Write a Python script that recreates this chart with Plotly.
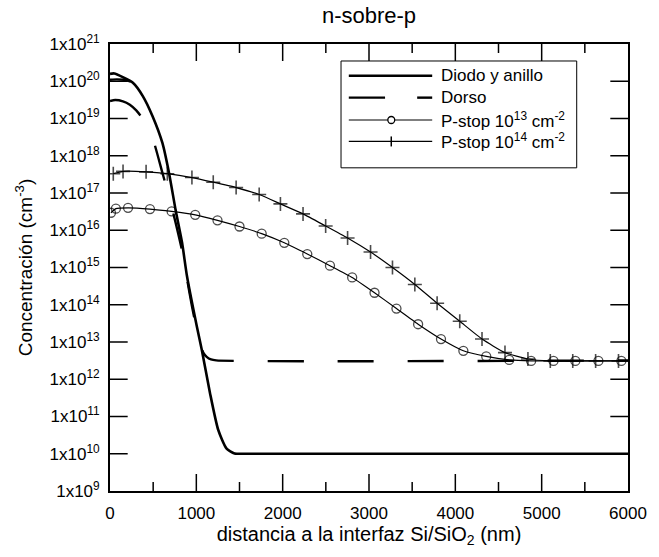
import plotly.graph_objects as go

# ---------------- data ----------------
diodo_x = [0, 50, 148, 265, 380, 493, 607, 683, 760, 835, 892, 1006, 1063, 1158, 1253, 1348, 1443, 1600, 6000]
diodo_y = [1.58e20, 1.62e20, 1.29e20, 9.1e19, 4.0e19, 1.15e19, 2.2e18, 3.5e17, 3.5e16, 4.6e15,
           5.8e14, 2.6e13, 6.2e12, 4.3e11, 4.4e10, 1.4e10, 1.02e10, 1.0e10, 1.0e10]

anillo_x = [0, 80, 160, 240]
anillo_y = [1.1e20, 1.12e20, 1.1e20, 9.8e19]

dorso_x = [0, 60, 150, 230, 304, 400, 493, 607, 703, 760, 835, 892, 950, 1000, 1044, 1080, 1120, 1170, 1230, 6000]
dorso_y = [2.95e19, 3.15e19, 2.9e19, 2.35e19, 1.65e19, 8.5e18, 3.0e18, 3.5e17, 5.4e16, 1.6e16,
           2.8e15, 5.0e14, 8.9e13, 2.5e13, 1.0e13, 5.2e12, 4.0e12, 3.4e12, 3.2e12, 3.2e12]

p13_x = [11, 68, 209, 463, 714, 987, 1245, 1500, 1757, 2019, 2285, 2548, 2805, 3064, 3318, 3569,
         3834, 4093, 4358, 4624, 4878, 5137, 5390, 5657, 5923, 6000]
p13_y = [2.95e16, 3.8e16, 4.0e16, 3.7e16, 3.2e16, 2.6e16, 1.85e16, 1.26e16, 8.1e15, 4.6e15, 2.3e15,
         1.12e15, 5.4e14, 2.1e14, 7.9e13, 3.0e13, 1.2e13, 5.8e12, 4.1e12, 3.3e12, 3.1e12, 3.1e12,
         3.1e12, 3.1e12, 3.1e12, 3.1e12]

p14_x = [38, 151, 418, 664, 949, 1196, 1461, 1728, 1974, 2236, 2498, 2752, 3018, 3272, 3531, 3789,
         4051, 4309, 4575, 4841, 5100, 5360, 5625, 5890, 6000]
p14_y = [3.3e17, 3.8e17, 3.7e17, 3.3e17, 2.6e17, 1.95e17, 1.4e17, 9.1e16, 5.1e16, 2.75e16, 1.3e16,
         6.2e15, 2.6e15, 1.0e15, 3.5e14, 1.1e14, 3.6e13, 1.2e13, 5.2e12, 3.5e12, 3.1e12, 3.1e12,
         3.1e12, 3.1e12, 3.1e12]

x_tick_vals = [0, 1000, 2000, 3000, 4000, 5000, 6000]
x_minor_vals = [500, 1500, 2500, 3500, 4500, 5500]
y_tick_vals = [1e9, 1e10, 1e11, 1e12, 1e13, 1e14, 1e15, 1e16, 1e17, 1e18, 1e19, 1e20, 1e21]
y_tick_text = ["1x10<sup>9</sup>", "1x10<sup>10</sup>", "1x10<sup>11</sup>", "1x10<sup>12</sup>",
               "1x10<sup>13</sup>", "1x10<sup>14</sup>", "1x10<sup>15</sup>", "1x10<sup>16</sup>",
               "1x10<sup>17</sup>", "1x10<sup>18</sup>", "1x10<sup>19</sup>", "1x10<sup>20</sup>",
               "1x10<sup>21</sup>"]

legend_labels = ["Diodo y anillo", "Dorso", "P-stop 10<sup>13</sup> cm<sup>-2</sup>",
                 "P-stop 10<sup>14</sup> cm<sup>-2</sup>"]

FONT = "Liberation Sans, Arial, Helvetica, sans-serif"
PW, PH = 527.0, 447.0   # plot-area size in px (tick / legend glyph lengths)

fig = go.Figure()

fig.add_trace(go.Scatter(x=diodo_x, y=diodo_y, mode="lines", name=legend_labels[0],
                         line=dict(color="black", width=2.6, shape="spline", smoothing=0.6)))
fig.add_trace(go.Scatter(x=anillo_x, y=anillo_y, mode="lines", showlegend=False,
                         line=dict(color="black", width=2.4, shape="spline", smoothing=0.6)))
fig.add_trace(go.Scatter(x=dorso_x, y=dorso_y, mode="lines", name=legend_labels[1],
                         line=dict(color="black", width=2.4, dash="36px,34px", shape="spline", smoothing=0.6)))

p13_sizes = [9] * (len(p13_x) - 1) + [0]
fig.add_trace(go.Scatter(x=p13_x, y=p13_y, mode="lines+markers", name=legend_labels[2],
                         line=dict(color="black", width=1.2, shape="spline", smoothing=0.5),
                         marker=dict(symbol="circle-open", size=p13_sizes, color="black",
                                     line=dict(width=1.3, color="black"))))
p14_sizes = [10] * (len(p14_x) - 1) + [0]
fig.add_trace(go.Scatter(x=p14_x, y=p14_y, mode="lines+markers", name=legend_labels[3],
                         line=dict(color="black", width=1.2, shape="spline", smoothing=0.5),
                         marker=dict(symbol="cross-thin", size=p14_sizes, color="black",
                                     line=dict(width=1.6, color="black"))))

# ---------------- inside tick marks on all four sides (drawn as line traces) ----------------
xt_x, xt_y = [], []
for v in x_tick_vals[1:-1]:
    xt_x += [v, v, None, v, v, None]
    xt_y += [0, 17, None, PH - 17, PH, None]
for v in x_minor_vals:
    xt_x += [v, v, None, v, v, None]
    xt_y += [0, 9, None, PH - 9, PH, None]
fig.add_trace(go.Scatter(x=xt_x, y=xt_y, xaxis="x", yaxis="y2", mode="lines", showlegend=False,
                         hoverinfo="skip", line=dict(color="black", width=1.5)))

yt_x, yt_y = [], []
for v in y_tick_vals[1:-1]:
    yt_x += [0, 18, None, PW - 18, PW, None]
    yt_y += [v, v, None, v, v, None]
fig.add_trace(go.Scatter(x=yt_x, y=yt_y, xaxis="x2", yaxis="y", mode="lines", showlegend=False,
                         hoverinfo="skip", line=dict(color="black", width=1.5)))

# ---------------- custom legend (paper coordinates) ----------------
rows = [0.929, 0.880, 0.830, 0.782]
lx0, lx1, lxm = 0.461, 0.622, 0.543
rx, ry = 3.5 / PW, 3.5 / PH
py = 5.0 / PH
shapes = [
    dict(type="rect", xref="paper", yref="paper", x0=0.446, x1=0.901, y0=0.723, y1=0.962,
         line=dict(color="black", width=1), fillcolor="white"),
    dict(type="line", xref="paper", yref="paper", x0=lx0, x1=lx1, y0=rows[0], y1=rows[0],
         line=dict(color="black", width=2.6)),
    dict(type="line", xref="paper", yref="paper", x0=lx0, x1=0.531, y0=rows[1], y1=rows[1],
         line=dict(color="black", width=2.4)),
    dict(type="line", xref="paper", yref="paper", x0=0.593, x1=lx1, y0=rows[1], y1=rows[1],
         line=dict(color="black", width=2.4)),
    dict(type="line", xref="paper", yref="paper", x0=lx0, x1=lx1, y0=rows[2], y1=rows[2],
         line=dict(color="black", width=1.2)),
    dict(type="circle", xref="paper", yref="paper", x0=lxm - rx, x1=lxm + rx,
         y0=rows[2] - ry, y1=rows[2] + ry, line=dict(color="black", width=1.3), fillcolor="white"),
    dict(type="line", xref="paper", yref="paper", x0=lx0, x1=lx1, y0=rows[3], y1=rows[3],
         line=dict(color="black", width=1.2)),
    dict(type="line", xref="paper", yref="paper", x0=lxm, x1=lxm, y0=rows[3] - py, y1=rows[3] + py,
         line=dict(color="black", width=1.5)),
]

annotations = []
for r, lab in zip(rows, legend_labels):
    annotations.append(dict(xref="paper", yref="paper", x=0.636, y=r, text=lab, showarrow=False,
                            xanchor="left", yanchor="middle", font=dict(family=FONT, size=17, color="black")))

fig.update_layout(
    width=659, height=557,
    margin=dict(l=110, r=22, t=44, b=66),
    paper_bgcolor="white", plot_bgcolor="white",
    showlegend=False,
    font=dict(family=FONT, color="black", size=17),
    title=dict(text="n-sobre-p", x=0.5, xref="paper", xanchor="center", y=0.973, yref="container",
               yanchor="middle", font=dict(family=FONT, size=22, color="black")),
    shapes=shapes, annotations=annotations,
    xaxis2=dict(overlaying="x", range=[0, PW], visible=False, showgrid=False, zeroline=False),
    yaxis2=dict(overlaying="y", range=[0, PH], visible=False, showgrid=False, zeroline=False),
)

fig.update_xaxes(
    selector=dict(overlaying=None),
    range=[0, 6000], tickvals=x_tick_vals, ticks="", ticklabelstandoff=6,
    showline=True, linecolor="black", linewidth=1.8, mirror=True,
    showgrid=False, zeroline=False,
    tickfont=dict(family=FONT, size=17, color="black"),
    title=dict(text="distancia a la interfaz Si/SiO<sub>2</sub> (nm)", standoff=4,
               font=dict(family=FONT, size=20, color="black")),
)
fig.update_yaxes(
    selector=dict(overlaying=None),
    type="log", range=[9, 21], tickvals=y_tick_vals, ticktext=y_tick_text, ticks="", ticklabelstandoff=5,
    showline=True, linecolor="black", linewidth=1.8, mirror=True,
    showgrid=False, zeroline=False,
    tickfont=dict(family=FONT, size=17, color="black"),
    title=dict(text="Concentración (cm<sup>-3</sup>)", standoff=12,
               font=dict(family=FONT, size=19, color="black")),
)

fig.write_html("out.html")
